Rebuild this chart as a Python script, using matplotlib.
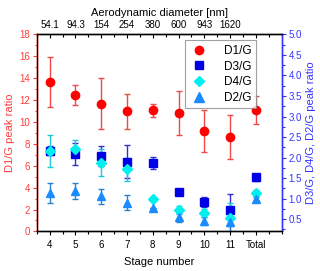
import matplotlib
matplotlib.use("Agg")
import matplotlib.pyplot as plt
from matplotlib.lines import Line2D
from matplotlib.ticker import MultipleLocator, FixedLocator, FormatStrFormatter

plt.rcParams["font.family"] = ["Liberation Sans", "DejaVu Sans"]

# stage positions (Total drawn at 12)
stages = [4, 5, 6, 7, 8, 9, 10, 11, 12]
stage_labels = ["4", "5", "6", "7", "8", "9", "10", "11", "Total"]
diam_labels = ["54.1", "94.3", "154", "254", "380", "600", "943", "1620"]

# D1/G on left axis
d1g = [13.65, 12.47, 11.67, 10.98, 11.07, 10.85, 9.2, 8.66, 11.1]
d1g_err = [2.3, 0.95, 2.33, 1.6, 0.6, 2.0, 1.9, 2.0, 1.25]

# right axis series
d3g = [2.17, 2.09, 2.04, 1.9, 1.87, 1.15, 0.92, 0.72, 1.52]
d3g_err = [0.1, 0.27, 0.25, 0.4, 0.14, 0.05, 0.12, 0.39, 0.08]
d4g = [2.16, 2.22, 1.87, 1.71, 1.0, 0.72, 0.64, 0.53, 1.13]
d4g_err = [0.38, 0.2, 0.33, 0.27, 0.0, 0.1, 0.1, 0.37, 0.07]
d2g = [1.14, 1.19, 1.06, 0.9, 0.76, 0.54, 0.45, 0.42, 1.0]
d2g_err = [0.25, 0.2, 0.18, 0.18, 0.0, 0.1, 0.1, 0.3, 0.05]

red = "#FF0000"
red_lab = "#FF3B3B"
blue = "#0000E6"
cyan = "#00F0F0"
dblue = "#1A8CFF"
blue_lab = "#3333FF"

fig = plt.figure(figsize=(3.2, 2.71), dpi=100)
ax = fig.add_axes([0.115, 0.146, 0.765, 0.727])
ax2 = ax.twinx()
ax3 = ax.twiny()

ax.errorbar(stages, d1g, yerr=d1g_err, fmt="o", color=red, ms=6,
            ecolor="#F04848", elinewidth=1, capsize=2, capthick=1, zorder=5)
ax2.errorbar(stages, d3g, yerr=d3g_err, fmt="s", color=blue, ms=5.5,
             ecolor="#3030D0", elinewidth=1, capsize=2, capthick=1)
ax2.errorbar(stages, d4g, yerr=d4g_err, fmt="D", color=cyan, ms=5,
             ecolor="#20C8D8", elinewidth=1, capsize=2, capthick=1)
ax2.errorbar(stages, d2g, yerr=d2g_err, fmt="^", color=dblue, ms=6,
             ecolor="#2A80D0", elinewidth=1, capsize=2, capthick=1)

ax.set_xlim(3.5, 13)
ax.set_ylim(0, 18)
ax2.set_ylim(0.2, 5.0)
ax3.set_xlim(3.5, 13)

ax.set_xticks(stages)
ax.set_xticklabels(stage_labels)
ax.xaxis.set_minor_locator(MultipleLocator(0.5))
ax.yaxis.set_major_locator(MultipleLocator(2))
ax.yaxis.set_minor_locator(MultipleLocator(1))
ax2.yaxis.set_major_locator(FixedLocator([0.5, 1.0, 1.5, 2.0, 2.5, 3.0, 3.5, 4.0, 4.5, 5.0]))
ax2.yaxis.set_minor_locator(MultipleLocator(0.25))
ax2.yaxis.set_major_formatter(FormatStrFormatter("%.1f"))

ax3.set_xticks(stages)
ax3.set_xticklabels(diam_labels + [""])
ax3.xaxis.set_minor_locator(MultipleLocator(0.5))

fs = 7
ax.tick_params(axis="x", which="both", direction="out", labelsize=fs, length=3, width=0.8, pad=3)
ax.tick_params(axis="x", which="minor", length=1.8)
ax.tick_params(axis="y", which="both", direction="out", colors=red_lab, labelsize=fs, length=3, width=0.8, pad=2)
ax.tick_params(axis="y", which="minor", length=1.8)
ax2.tick_params(axis="y", which="both", direction="out", colors=blue_lab, labelsize=fs, length=3, width=0.8, pad=2)
ax2.tick_params(axis="y", which="minor", length=1.8)
ax3.tick_params(axis="x", which="both", direction="in", labelsize=fs, length=3, width=0.8, pad=3)
ax3.tick_params(axis="x", which="minor", length=1.8)

ax.spines["left"].set_color(red)
ax2.spines["left"].set_color(red)
ax2.spines["right"].set_color(blue_lab)
ax3.spines["right"].set_color(blue_lab)
ax.spines["right"].set_color(blue_lab)
for a in (ax, ax2, ax3):
    for s in a.spines.values():
        s.set_linewidth(0.9)

ax.set_xlabel("Stage number", fontsize=8, labelpad=5)
ax.set_ylabel("D1/G peak ratio", fontsize=8, color=red_lab, labelpad=3)
ax2.set_ylabel("D3/G, D4/G, D2/G peak ratio", fontsize=8, color=blue_lab, labelpad=3)
ax3.set_xlabel("Aerodynamic diameter [nm]", fontsize=8, labelpad=3)

handles = [
    Line2D([], [], ls="", marker="o", color=red, ms=6),
    Line2D([], [], ls="", marker="s", color=blue, ms=6),
    Line2D([], [], ls="", marker="D", color=cyan, ms=5.5),
    Line2D([], [], ls="", marker="^", color=dblue, ms=6.5),
]
leg = ax3.legend(handles, ["D1/G", "D3/G", "D4/G", "D2/G"], loc="upper left",
                 bbox_to_anchor=(0.605, 0.97), fontsize=8.5, frameon=True,
                 fancybox=False, edgecolor="#888888", handlelength=1.6,
                 handletextpad=1.3, labelspacing=0.3, borderpad=0.4,
                 borderaxespad=0)
leg.get_frame().set_linewidth(0.8)

fig.savefig("out.png", dpi=100)
